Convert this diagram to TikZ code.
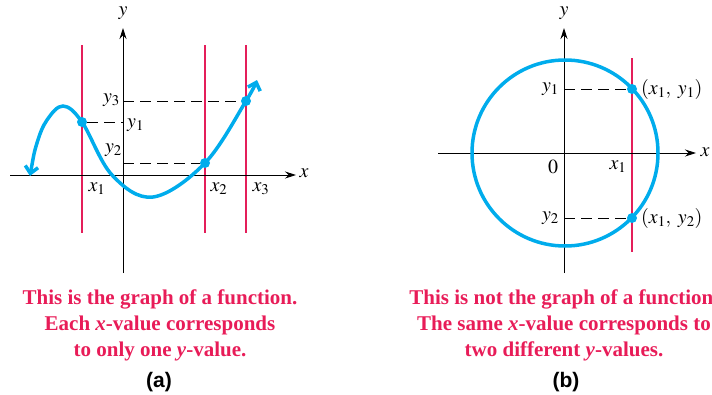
\documentclass[tikz,border=0pt]{standalone}
\usepackage{mathptmx}
\usepackage{fontspec}
\setmainfont{Liberation Serif}
\newfontfamily\capsans{Liberation Sans}
\usetikzlibrary{arrows.meta}
\definecolor{curveblue}{RGB}{0,172,236}
\definecolor{vlinered}{RGB}{228,30,90}
\definecolor{capred}{RGB}{232,28,88}
\tikzset{
  axis/.style={line width=0.9pt, -{Stealth[length=11pt,width=7pt]}},
  vline/.style={vlinered, line width=1.2pt},
  guide/.style={line width=0.9pt, dash pattern=on 11pt off 6pt},
  curve/.style={curveblue, line width=3.5pt},
  dot/.style={circle, fill=curveblue, inner sep=0pt, minimum size=10pt},
  lab/.style={inner sep=1pt, font=\fontsize{20}{24}\selectfont},
  caption/.style={capred, align=center, font=\fontsize{21}{26}\selectfont\bfseries},
  sub/.style={font=\fontsize{21}{24}\selectfont\capsans\bfseries}
}
\begin{document}
\begin{tikzpicture}[x=1pt, y=-1pt]
  \useasboundingbox (0,0) rectangle (712,394);

  % (a) graph of a function
  \coordinate (lxl) at (10,175);
  \coordinate (lxr) at (296,175);
  \coordinate (lyb) at (123,273);
  \coordinate (lyt) at (123,28);
  \coordinate (ly1) at (123,122);
  \coordinate (ly2) at (123,163);
  \coordinate (ly3) at (123,101);

  \draw[vline] (82,45) -- (82,233);
  \draw[vline] (205,45) -- (205,233);
  \draw[vline] (246,45) -- (246,233);

  \draw[axis] (lxl) -- (lxr);
  \draw[axis] (lyb) -- (lyt);

  \draw[curve, {Straight Barb[length=7pt,width=13pt]}-{Straight Barb[length=7pt,width=13pt]}]
    plot[smooth, tension=0.6] coordinates {(30,176) (37,143) (47,120) (63,106) (82,122)
      (112,175) (153,197) (205,163) (246,101) (257,80)};

  \node[dot] (p1) at (82,122) {};
  \node[dot] (p2) at (205,163) {};
  \node[dot] (p3) at (246,101) {};

  \draw[guide] (p1) -- (ly1);
  \draw[guide] (ly2) -- (p2);
  \draw[guide] (ly3) -- (p3);

  \node[lab] (lx) at (304,173) {$x$};
  \node[lab] (ly) at (123,13) {$y$};
  \node[lab, anchor=east] (ly3l) at (121,100) {$y_3$};
  \node[lab, anchor=west] (ly1l) at (126,125) {$y_1$};
  \node[lab, anchor=east] (ly2l) at (123,150) {$y_2$};
  \node[lab] (lx1) at (97,189) {$x_1$};
  \node[lab] (lx2) at (219,189) {$x_2$};
  \node[lab] (lx3) at (261,189) {$x_3$};

  % (b) not a function
  \coordinate (rO) at (564,153);
  \coordinate (rxl) at (438,153);
  \coordinate (rxr) at (696,153);
  \coordinate (ryb) at (564,273);
  \coordinate (ryt) at (564,28);
  \coordinate (ry1) at (564,89);
  \coordinate (ry2) at (564,218);

  \draw[vline] (632,58) -- (632,252);
  \draw[axis] (rxl) -- (rxr);
  \draw[axis] (ryb) -- (ryt);
  \draw[curve] (565,153) circle[radius=93];

  \node[dot] (q1) at (632,89) {};
  \node[dot] (q2) at (632,218) {};
  \draw[guide] (ry1) -- (q1);
  \draw[guide] (ry2) -- (q2);

  \node[lab] (rx) at (705,152) {$x$};
  \node[lab] (ry) at (564,13) {$y$};
  \node[lab, anchor=east] (ry1l) at (560,89) {$y_1$};
  \node[lab, anchor=east] (ry2l) at (560,218) {$y_2$};
  \node[lab] (r0) at (553,167) {$0$};
  \node[lab] (rx1) at (618,167) {$x_1$};
  \node[lab, anchor=west] (q1l) at (640,89) {$(x_1,\;y_1)$};
  \node[lab, anchor=west] (q2l) at (640,218) {$(x_1,\;y_2)$};

  % captions
  \node[caption] (capa) at (160,325) {This is the graph of a function.\\
    Each \textit{x}-value corresponds\\ to only one \textit{y}-value.};
  \node[caption] (capb) at (564,325) {This is not the graph of a function.\\
    The same \textit{x}-value corresponds to\\ two different \textit{y}-values.};
  \node[sub] (suba) at (159,382) {(a)};
  \node[sub] (subb) at (566,382) {(b)};
\end{tikzpicture}
\end{document}
